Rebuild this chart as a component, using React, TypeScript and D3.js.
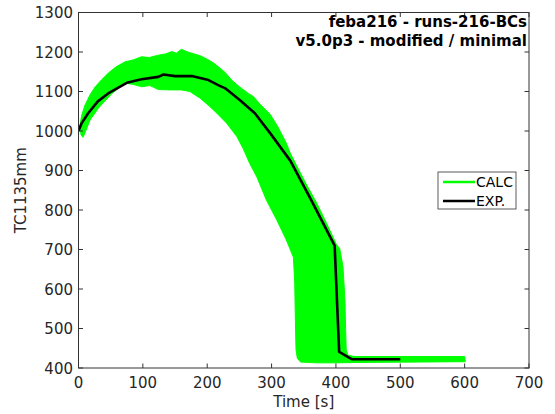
import React from "react";
import * as d3 from "d3";

const xTicks = [0, 100, 200, 300, 400, 500, 600, 700];
const yTicks = [400, 500, 600, 700, 800, 900, 1000, 1100, 1200, 1300];

// EXP. measured curve [time s, temperature]
const expTime = [0, 5, 15, 30, 46, 75, 98, 124, 132, 150, 176, 202, 217, 228, 251, 274, 298, 329, 360, 398, 405, 425, 500];
const expTemp = [1000, 1020, 1045, 1075, 1095, 1122, 1131, 1137, 1143, 1139, 1139, 1129, 1116, 1108, 1078, 1045, 994, 925, 830, 710, 441, 422, 422];

// CALC envelope of all runs: upper/right edge (left to right)
const calcUpperTime = [2, 5, 10, 18, 26, 36, 46, 58, 72, 85, 98, 110, 124, 135, 145, 152, 160, 168, 176, 190, 202, 210, 217, 228, 238, 250, 264, 272, 282, 290, 298, 310, 323, 329, 339, 355, 370, 385, 401, 406, 411, 414, 415, 416, 419, 430, 600, 601];
const calcUpperTemp = [1012, 1040, 1065, 1092, 1112, 1130, 1146, 1162, 1175, 1180, 1188, 1186, 1192, 1195, 1201, 1197, 1207, 1201, 1197, 1190, 1180, 1172, 1163, 1148, 1129, 1112, 1095, 1087, 1068, 1055, 1042, 1010, 969, 944, 912, 862, 818, 768, 712, 702, 656, 572, 500, 446, 432, 429, 429, 416];
// lower/left edge (right to left)
const calcLowerTime = [430, 400, 370, 345, 340, 338, 337, 336, 334, 323, 308, 292, 277, 266, 256, 246, 230, 215, 204, 189, 173, 160, 142, 124, 111, 98, 85, 72, 52, 31, 18, 10, 7, 4];
const calcLowerTemp = [414, 413, 413, 415, 425, 446, 520, 614, 680, 724, 775, 825, 884, 918, 955, 986, 1020, 1045, 1062, 1083, 1100, 1104, 1104, 1105, 1115, 1112, 1118, 1121, 1095, 1058, 1028, 995, 984, 990];

const titleLines = ["feba216 - runs-216-BCs", "v5.0p3 - modified / minimal"];
const legendLabels = ["CALC", "EXP."];

const W = 555;
const H = 414;
const left = 78.5;
const right = 529;
const top = 12.5;
const bottom = 368;

const FONT = "'DejaVu Sans', sans-serif";
const AX = "#333333";
const GREEN = "#00ff00";

export default function App() {
  const x = d3.scaleLinear().domain([0, 700]).range([left, right]);
  const y = d3.scaleLinear().domain([400, 1300]).range([bottom, top]);

  const bandPts: [number, number][] = [
    ...calcUpperTime.map((t, i) => [t, calcUpperTemp[i]] as [number, number]),
    ...calcLowerTime.map((t, i) => [t, calcLowerTemp[i]] as [number, number]),
  ];
  const line = d3
    .line<[number, number]>()
    .x((d) => x(d[0]))
    .y((d) => y(d[1]));
  const bandPath = line(bandPts) + "Z";
  const expPts = expTime.map((t, i) => [t, expTemp[i]] as [number, number]);
  const expPath = line(expPts) || "";

  const tickLen = 4.5;
  const legX = 438;
  const legY = 172;
  const legW = 78;
  const legH = 37;

  return (
    <svg
      width={W}
      height={H}
      style={{ position: "absolute", left: 0, top: 0, background: "#fff" }}
    >
      <rect x={0} y={0} width={W} height={H} fill="#fff" />
      <defs>
        <clipPath id="plotclip">
          <rect x={left} y={top} width={right - left} height={bottom - top} />
        </clipPath>
      </defs>
      <g clipPath="url(#plotclip)">
        <path d={bandPath} fill={GREEN} stroke={GREEN} strokeWidth={1} strokeLinejoin="round" />
        <path d={expPath} fill="none" stroke="#000" strokeWidth={2.6} strokeLinejoin="round" />
      </g>

      {/* frame */}
      <rect x={left} y={top} width={right - left} height={bottom - top} fill="none" stroke={AX} strokeWidth={1} />

      {/* x ticks */}
      {xTicks.map((t) => (
        <g key={"x" + t}>
          <line x1={x(t)} x2={x(t)} y1={bottom} y2={bottom - tickLen} stroke={AX} strokeWidth={1} />
          <line x1={x(t)} x2={x(t)} y1={top} y2={top + tickLen} stroke={AX} strokeWidth={1} />
          <text x={x(t)} y={388} textAnchor="middle" fontFamily={FONT} fontSize={15} fill="#262626">
            {t}
          </text>
        </g>
      ))}
      {/* y ticks */}
      {yTicks.map((t) => (
        <g key={"y" + t}>
          <line x1={left} x2={left + tickLen} y1={y(t)} y2={y(t)} stroke={AX} strokeWidth={1} />
          <line x1={right} x2={right - tickLen} y1={y(t)} y2={y(t)} stroke={AX} strokeWidth={1} />
          <text x={73} y={y(t) + 5.5} textAnchor="end" fontFamily={FONT} fontSize={15} fill="#262626">
            {t}
          </text>
        </g>
      ))}

      <text x={(left + right) / 2} y={407} textAnchor="middle" fontFamily={FONT} fontSize={15} fill="#262626">
        Time [s]
      </text>
      <text
        transform={`translate(26,${(top + bottom) / 2}) rotate(-90)`}
        textAnchor="middle"
        fontFamily={FONT}
        fontSize={15}
        fill="#262626"
      >
        TC1135mm
      </text>

      {titleLines.map((s, i) => (
        <text
          key={s}
          x={527}
          y={27 + i * 19}
          textAnchor="end"
          fontFamily={FONT}
          fontWeight="bold"
          fontSize={15}
          fill="#000"
        >
          {s}
        </text>
      ))}

      {/* legend */}
      <rect x={legX} y={legY} width={legW} height={legH} fill="#fff" stroke={AX} strokeWidth={0.8} />
      {legendLabels.map((s, i) => (
        <g key={s}>
          <line
            x1={legX + 5}
            x2={legX + 37}
            y1={legY + 10 + i * 19}
            y2={legY + 10 + i * 19}
            stroke={i === 0 ? GREEN : "#000"}
            strokeWidth={2.5}
          />
          <text x={legX + 38} y={legY + 15 + i * 19} fontFamily={FONT} fontSize={14} fill="#000">
            {s}
          </text>
        </g>
      ))}
    </svg>
  );
}
